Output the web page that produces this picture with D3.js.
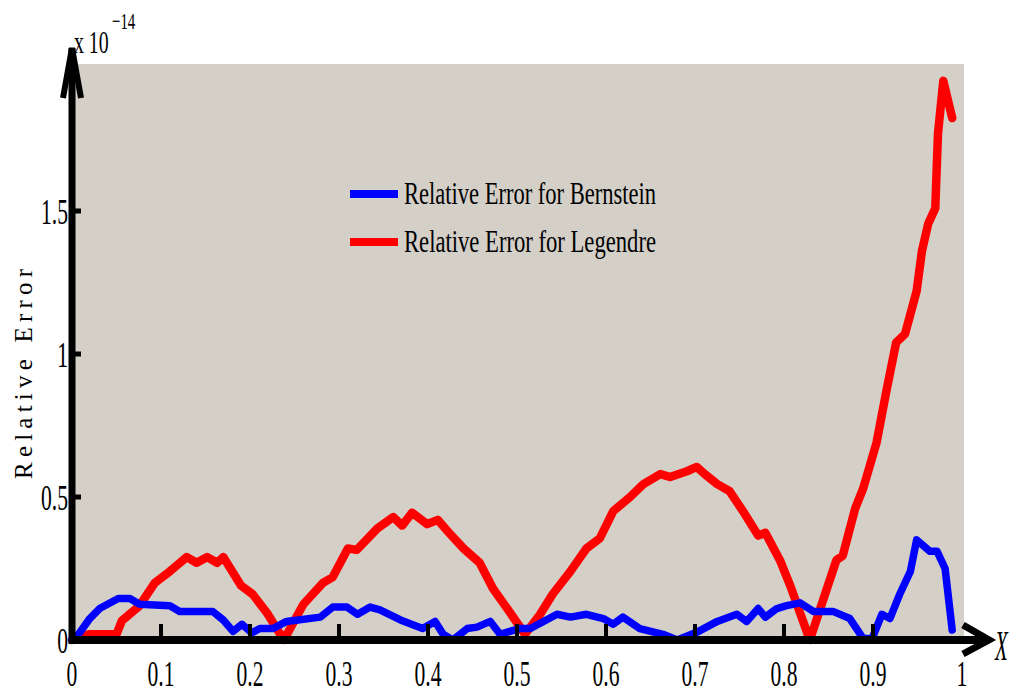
<!DOCTYPE html>
<html>
<head>
<meta charset="utf-8">
<script src="https://cdn.jsdelivr.net/npm/d3@7"></script>
<style>
  html, body { margin: 0; padding: 0; background: #ffffff; }
  svg { display: block; }
  text { font-family: "Liberation Serif", "Times New Roman", serif; fill: #000; }
</style>
</head>
<body>
<svg id="chart" width="1015" height="695"></svg>
<script>
// Relative error of the two approximations on [0, 1] (values in units of 1e-14)
const bernsteinX = [0,0.005,0.02,0.031,0.052,0.065,0.076,0.11,0.121,0.158,0.17,0.181,0.191,0.202,0.211,0.226,0.241,0.279,0.293,0.309,0.321,0.335,0.346,0.369,0.394,0.408,0.417,0.428,0.444,0.455,0.47,0.481,0.492,0.503,0.515,0.545,0.56,0.578,0.597,0.608,0.619,0.638,0.664,0.68,0.704,0.725,0.747,0.758,0.771,0.779,0.792,0.803,0.818,0.833,0.855,0.874,0.889,0.899,0.91,0.919,0.93,0.942,0.949,0.964,0.972,0.981,0.989];
const bernsteinY = [0,0.01,0.075,0.11,0.145,0.145,0.125,0.12,0.1,0.1,0.07,0.03,0.055,0.025,0.04,0.04,0.065,0.08,0.115,0.115,0.09,0.115,0.105,0.07,0.04,0.065,0.02,0.0,0.04,0.045,0.065,0.02,0.03,0.04,0.04,0.09,0.08,0.09,0.075,0.055,0.08,0.04,0.02,0.0,0.03,0.065,0.09,0.065,0.11,0.08,0.11,0.12,0.13,0.1,0.1,0.075,0.005,0.005,0.09,0.075,0.16,0.24,0.35,0.31,0.31,0.25,0.035];

const legendreX = [0,0.005,0.02,0.05,0.056,0.076,0.093,0.11,0.129,0.14,0.152,0.163,0.17,0.19,0.203,0.219,0.238,0.26,0.282,0.293,0.31,0.32,0.343,0.361,0.371,0.382,0.399,0.411,0.425,0.44,0.458,0.473,0.489,0.509,0.526,0.54,0.56,0.578,0.593,0.608,0.627,0.642,0.661,0.672,0.691,0.702,0.711,0.725,0.739,0.754,0.771,0.779,0.796,0.807,0.829,0.844,0.859,0.866,0.88,0.889,0.904,0.915,0.926,0.936,0.949,0.955,0.962,0.97,0.971,0.973,0.979,0.989];
const legendreY = [0,0.01,0.02,0.02,0.067,0.12,0.2,0.24,0.29,0.27,0.29,0.27,0.29,0.19,0.16,0.095,0.0,0.125,0.2,0.22,0.32,0.315,0.39,0.43,0.4,0.445,0.405,0.42,0.37,0.32,0.27,0.18,0.11,0.02,0.09,0.16,0.24,0.32,0.355,0.45,0.5,0.545,0.58,0.57,0.59,0.605,0.58,0.545,0.52,0.45,0.365,0.375,0.275,0.19,0.0,0.14,0.28,0.295,0.46,0.53,0.69,0.87,1.04,1.07,1.22,1.36,1.455,1.51,1.6,1.77,1.955,1.825];

const xTicks = [0,0.1,0.2,0.3,0.4,0.5,0.6,0.7,0.8,0.9,1];
const xTickLabels = ["0","0.1","0.2","0.3","0.4","0.5","0.6","0.7","0.8","0.9","1"];
const yTicks = [0,0.5,1,1.5];
const yTickLabels = ["0","0.5","1","1.5"];

const seriesNames = ["Relative Error for Bernstein","Relative Error for Legendre"];
const seriesColors = ["#0000ff","#ff0000"];

const svg = d3.select("#chart");

const x = d3.scaleLinear().domain([0, 1]).range([72, 962]);
const y = d3.scaleLinear().domain([0, 2]).range([640, 68]);

// plot background
svg.append("rect")
  .attr("x", x(0)).attr("y", y(2) - 4)
  .attr("width", x(1) - x(0) + 2).attr("height", y(0) - y(2) + 4)
  .attr("fill", "#d4d0c8");

// data lines
const line = d3.line().x(d => x(d[0])).y(d => y(d[1]));
const series = [
  d3.zip(bernsteinX, bernsteinY),
  d3.zip(legendreX, legendreY)
];
// red drawn first so that blue is on top where they overlap near the axis
[1, 0].forEach(i => {
  svg.append("path")
    .datum(series[i])
    .attr("d", line)
    .attr("fill", "none")
    .attr("stroke", seriesColors[i])
    .attr("stroke-width", i === 1 ? 8.5 : 7.5)
    .attr("stroke-linejoin", "round")
    .attr("stroke-linecap", "round");
});

// axes drawn as thick arrows
const axisG = svg.append("g").attr("stroke", "#000").attr("fill", "none")
  .attr("stroke-linejoin", "miter");

axisG.append("line")
  .attr("x1", x(0)).attr("x2", x(0))
  .attr("y1", y(0) + 4).attr("y2", 48)
  .attr("stroke-width", 7);
axisG.append("path")
  .attr("d", `M${x(0) - 9},98 L${x(0)},48 L${x(0) + 9},98`)
  .attr("stroke-width", 6);

axisG.append("line")
  .attr("x1", x(0) - 3).attr("x2", 988)
  .attr("y1", y(0)).attr("y2", y(0))
  .attr("stroke-width", 8);
axisG.append("path")
  .attr("d", `M963,${y(0) - 15} L989,${y(0)} L963,${y(0) + 14}`)
  .attr("stroke-width", 7);

// tick marks
xTicks.slice(1, -1).forEach(t => {
  axisG.append("line")
    .attr("x1", x(t)).attr("x2", x(t))
    .attr("y1", y(0)).attr("y2", y(0) - 16)
    .attr("stroke-width", 4);
});
yTicks.slice(1).forEach(t => {
  axisG.append("line")
    .attr("x1", x(0)).attr("x2", x(0) + 9)
    .attr("y1", y(t)).attr("y2", y(t))
    .attr("stroke-width", 5);
});

// tick labels (tall, narrow serif)
const tickFont = 36, tickSx = 0.6;
xTicks.forEach((t, i) => {
  svg.append("text")
    .attr("transform", `translate(${x(t)},${y(0) + 46}) scale(${tickSx},1)`)
    .attr("text-anchor", "middle")
    .attr("font-size", tickFont)
    .text(xTickLabels[i]);
});
yTicks.forEach((t, i) => {
  svg.append("text")
    .attr("transform", `translate(${x(0) - 4},${y(t) + 13}) scale(${tickSx},1)`)
    .attr("text-anchor", "end")
    .attr("font-size", tickFont)
    .text(yTickLabels[i]);
});

// exponent annotation
svg.append("text")
  .attr("transform", `translate(74,53) scale(0.62,1)`)
  .attr("font-size", 32)
  .text("x 10");
svg.append("text")
  .attr("transform", `translate(112,29) scale(0.62,1)`)
  .attr("font-size", 24)
  .text("\u221214");

// axis titles
svg.append("text")
  .attr("transform", `translate(32,374) rotate(-90)`)
  .attr("text-anchor", "middle")
  .attr("font-size", 25)
  .attr("textLength", 210)
  .attr("lengthAdjust", "spacing")
  .text("Relative Error");

svg.append("text")
  .attr("transform", `translate(995,660) scale(0.5,1)`)
  .attr("font-size", 42)
  .attr("font-style", "italic")
  .text("X");

// legend
const legendY = [194, 242];
seriesNames.forEach((name, i) => {
  svg.append("line")
    .attr("x1", 350).attr("x2", 398)
    .attr("y1", legendY[i]).attr("y2", legendY[i])
    .attr("stroke", seriesColors[i])
    .attr("stroke-width", 8);
  svg.append("text")
    .attr("x", 404).attr("y", legendY[i] + 10)
    .attr("font-size", 31)
    .attr("textLength", 252)
    .attr("lengthAdjust", "spacingAndGlyphs")
    .text(name);
});
</script>
</body>
</html>
